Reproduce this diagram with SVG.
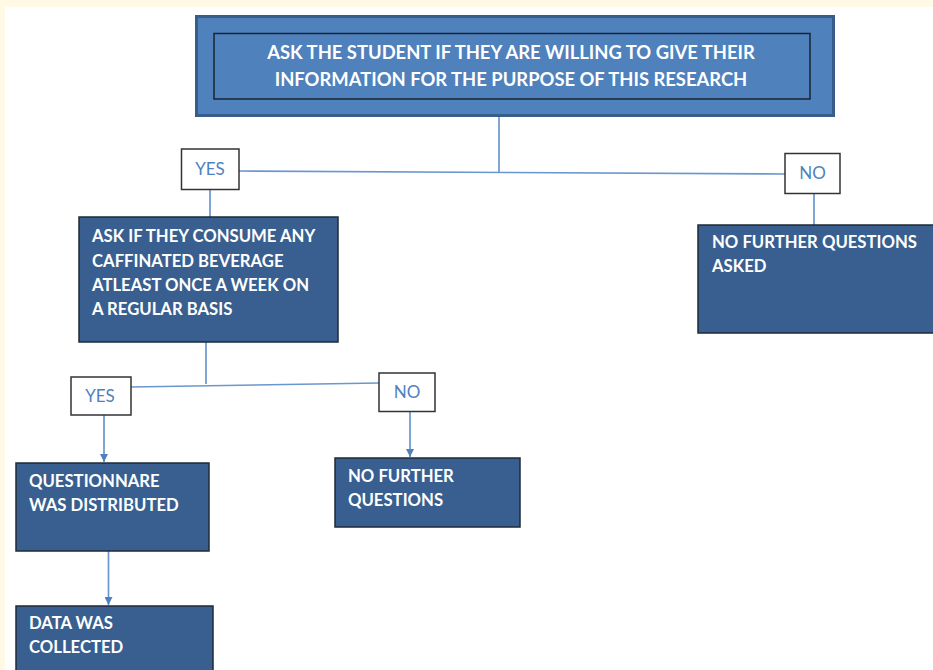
<svg xmlns="http://www.w3.org/2000/svg" width="933" height="670" viewBox="0 0 933 670">
<defs>
<style>
.box{fill:#385f8f;stroke:#1f2a36;stroke-width:1.5}
.bt{font-family:Lato,"Open Sans","Liberation Sans",sans-serif;font-weight:bold;font-size:16.7px;fill:#ffffff}
.tt{font-family:Lato,"Open Sans","Liberation Sans",sans-serif;font-weight:bold;font-size:18.4px;fill:#ffffff;text-anchor:middle}
.lbl{fill:#ffffff;stroke:#333333;stroke-width:1.5}
.lt{font-family:Lato,"Open Sans","Liberation Sans",sans-serif;font-size:17px;fill:#4f81bd;text-anchor:middle}
.con{stroke:#6a97cf;stroke-width:1.7;fill:none}
</style>
<marker id="ah" viewBox="0 0 10 10" refX="10" refY="5" markerWidth="8" markerHeight="8" markerUnits="userSpaceOnUse" orient="auto">
<path d="M0,0 L10,5 L0,10 z" fill="#4f81bd"/>
</marker>
</defs>
<rect x="0" y="0" width="933" height="670" fill="#fff9e6"/>
<rect x="5" y="7" width="928" height="663" fill="#ffffff"/>

<g id="connectors">
<line class="con" x1="499" y1="117" x2="499" y2="173"/>
<line class="con" x1="239" y1="171" x2="785" y2="174"/>
<line class="con" x1="210" y1="189" x2="210" y2="217"/>
<line class="con" x1="814" y1="193" x2="814" y2="225"/>
<line class="con" x1="206" y1="342" x2="206" y2="384"/>
<line class="con" x1="131" y1="387" x2="379" y2="383"/>
<line class="con" x1="104" y1="415" x2="104" y2="462" marker-end="url(#ah)"/>
<line class="con" x1="410" y1="412" x2="410" y2="457" marker-end="url(#ah)"/>
<line class="con" x1="108.5" y1="551" x2="108.5" y2="605" marker-end="url(#ah)"/>
</g>

<g id="top">
<rect x="196.5" y="16.5" width="637" height="99" fill="#4f81bd" stroke="#385d8a" stroke-width="3"/>
<rect x="214" y="33.5" width="596" height="65.5" fill="#4f81bd" stroke="#1a2433" stroke-width="1.5"/>
<text class="tt" x="511" y="58.5">ASK THE STUDENT IF THEY ARE WILLING TO GIVE THEIR</text>
<text class="tt" x="511" y="86">INFORMATION FOR THE PURPOSE OF THIS RESEARCH</text>
</g>

<g id="yes1">
<rect class="lbl" x="181.5" y="149" width="57.5" height="40.5"/>
<text class="lt" x="210" y="175">YES</text>
</g>

<g id="no1">
<rect class="lbl" x="785" y="153.5" width="55" height="40"/>
<text class="lt" x="812.5" y="179">NO</text>
</g>

<g id="ask">
<rect class="box" x="79" y="217" width="259" height="125"/>
<text class="bt" x="92" y="242">ASK IF THEY CONSUME ANY</text>
<text class="bt" x="92" y="267">CAFFINATED BEVERAGE</text>
<text class="bt" x="92" y="291">ATLEAST ONCE A WEEK ON</text>
<text class="bt" x="92" y="315">A REGULAR BASIS</text>
</g>

<g id="nofurther1">
<rect class="box" x="698" y="225" width="240" height="108"/>
<text class="bt" x="712" y="248">NO FURTHER QUESTIONS</text>
<text class="bt" x="712" y="272">ASKED</text>
</g>

<g id="yes2">
<rect class="lbl" x="71" y="377" width="60" height="38"/>
<text class="lt" x="100" y="402">YES</text>
</g>

<g id="no2">
<rect class="lbl" x="379" y="373" width="56" height="38.5"/>
<text class="lt" x="407" y="398">NO</text>
</g>

<g id="questionnaire">
<rect class="box" x="16" y="463" width="193" height="88"/>
<text class="bt" x="29" y="487">QUESTIONNARE</text>
<text class="bt" x="29" y="511">WAS DISTRIBUTED</text>
</g>

<g id="nofurther2">
<rect class="box" x="335" y="458" width="185" height="69"/>
<text class="bt" x="348" y="482">NO FURTHER</text>
<text class="bt" x="348" y="506">QUESTIONS</text>
</g>

<g id="data">
<rect class="box" x="16" y="606" width="197" height="70"/>
<text class="bt" x="29" y="629">DATA WAS</text>
<text class="bt" x="29" y="653">COLLECTED</text>
</g>
</svg>
